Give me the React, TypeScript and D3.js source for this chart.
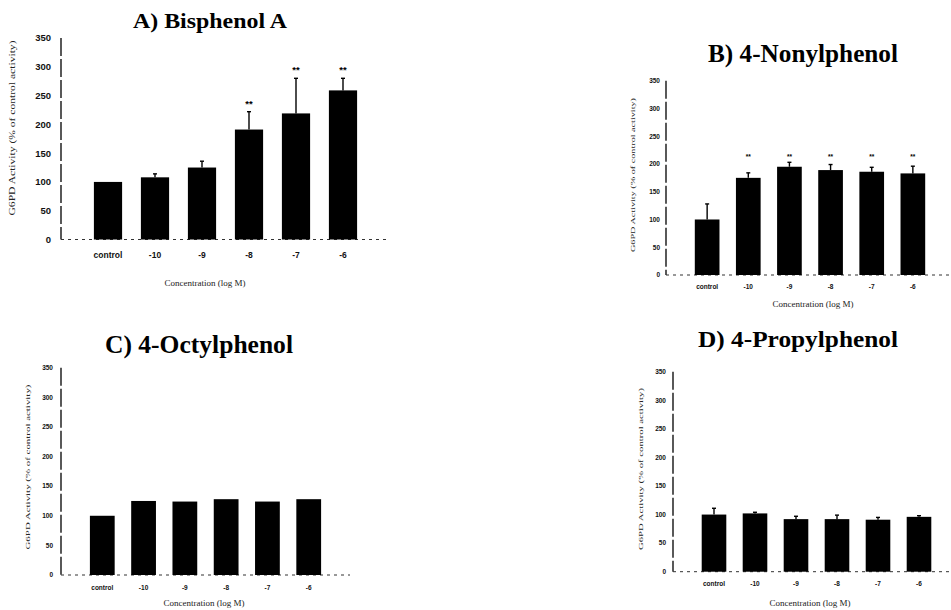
import React from "react";
import * as d3 from "d3";

const categories = ["control", "-10", "-9", "-8", "-7", "-6"];
const yTicks = [0, 50, 100, 150, 200, 250, 300, 350];

const bpaMean = [100, 108, 125, 191, 219, 259];
const bpaErr = [0, 6, 11, 31, 61, 21];
const bpaSig = ["", "", "", "**", "**", "**"];

const nonylMean = [100, 175, 195, 189, 186, 183];
const nonylErr = [28, 9, 8, 10, 8, 13];
const nonylSig = ["", "**", "**", "**", "**", "**"];

const octylMean = [100, 125, 124, 128, 124, 128];
const octylErr = [0, 0, 0, 0, 0, 0];
const octylSig = ["", "", "", "", "", ""];

const propylMean = [100, 102, 92, 92, 91, 96];
const propylErr = [11, 2, 5, 7, 4, 2];
const propylSig = ["", "", "", "", "", ""];

const titles = ["A) Bisphenol A", "B) 4-Nonylphenol", "C) 4-Octylphenol", "D) 4-Propylphenol"];
const yTitle = "G6PD Activity (% of control activity)";
const xTitle = "Concentration (log M)";

type PanelProps = {
  title: string;
  mean: number[];
  err: number[];
  sig: string[];
  axisX: number;
  yTop: number;
  yBottom: number;
  xEnd: number;
  tickRight: number;
  tickSize: number;
  titleX: number;
  titleY: number;
  titleSize: number;
  titleLen: number;
  yTitleX: number;
  yTitleCY: number;
  yTitleLen: number;
  yTitleSize: number;
  xLabelY: number;
  xLabelSize: number;
  xTitleX: number;
  xTitleY: number;
  xTitleSize: number;
  starFixed?: number;
};

function Panel(p: PanelProps) {
  const x = d3
    .scaleBand<string>()
    .domain(categories)
    .range([p.axisX, p.xEnd])
    .paddingInner(0.4)
    .paddingOuter(0.7);
  const y = d3.scaleLinear().domain([0, 350]).range([p.yBottom, p.yTop]);
  const bw = x.bandwidth();
  return (
    <g>
      <text
        x={p.titleX}
        y={p.titleY}
        textAnchor="middle"
        fontFamily="'Liberation Serif', serif"
        fontWeight="bold"
        fontSize={p.titleSize}
        textLength={p.titleLen}
        lengthAdjust="spacingAndGlyphs"
      >
        {p.title}
      </text>
      {/* y axis */}
      <line
        x1={p.axisX}
        x2={p.axisX}
        y1={y(350)}
        y2={y(0)}
        stroke="#000"
        strokeWidth={1.3}
        strokeDasharray="18,3"
      />
      {yTicks.map((t) => (
        <text
          key={t}
          x={p.tickRight}
          y={y(t) + p.tickSize * 0.36}
          textAnchor="end"
          fontFamily="'Liberation Sans', sans-serif"
          fontWeight="bold"
          fontSize={p.tickSize}
          fill="#111"
        >
          {t}
        </text>
      ))}
      {/* x axis (faint, dotted) */}
      <line
        x1={p.axisX}
        x2={Math.min(p.xEnd, 950)}
        y1={y(0)}
        y2={y(0)}
        stroke="#333"
        strokeWidth={1}
        strokeDasharray="3,4"
      />
      {categories.map((c, i) => {
        const bx = x(c)!;
        const top = y(p.mean[i]);
        const errTop = y(p.mean[i] + p.err[i]);
        const cx = bx + bw / 2;
        const starY =
          p.starFixed !== undefined ? y(p.starFixed) : errTop - 8;
        return (
          <g key={c}>
            <rect x={bx} y={top} width={bw} height={y(0) - top} fill="#000" />
            {p.err[i] > 0 && (
              <g stroke="#000" strokeWidth={1.4}>
                <line x1={cx} x2={cx} y1={top} y2={errTop} />
                <line x1={cx - 2} x2={cx + 2} y1={errTop} y2={errTop} />
              </g>
            )}
            {p.sig[i] && (
              <text
                x={cx}
                y={starY + 3}
                textAnchor="middle"
                fontFamily="'Liberation Sans', sans-serif"
                fontWeight="bold"
                fontSize={p.tickSize}
              >
                {p.sig[i]}
              </text>
            )}
            <text
              x={cx}
              y={p.xLabelY}
              textAnchor="middle"
              fontFamily="'Liberation Sans', sans-serif"
              fontWeight="bold"
              fontSize={p.xLabelSize}
              fill="#111"
            >
              {c}
            </text>
          </g>
        );
      })}
      <text
        transform={`translate(${p.yTitleX},${p.yTitleCY}) rotate(-90)`}
        textAnchor="middle"
        fontFamily="'Liberation Serif', serif"
        fontSize={p.yTitleSize}
        textLength={p.yTitleLen}
        lengthAdjust="spacingAndGlyphs"
        fill="#222"
      >
        {yTitle}
      </text>
      <text
        x={p.xTitleX}
        y={p.xTitleY}
        textAnchor="middle"
        fontFamily="'Liberation Serif', serif"
        fontSize={p.xTitleSize}
        fill="#222"
      >
        {xTitle}
      </text>
    </g>
  );
}

export default function App() {
  return (
    <svg
      width={951}
      height={610}
      style={{ position: "absolute", left: 0, top: 0, background: "#fff" }}
    >
      <rect width={951} height={610} fill="#fff" />
      <Panel
        title={titles[0]}
        mean={bpaMean}
        err={bpaErr}
        sig={bpaSig}
        axisX={61}
        yTop={38}
        yBottom={239.5}
        xEnd={390}
        tickRight={51}
        tickSize={9.5}
        titleX={210}
        titleY={28}
        titleSize={21}
        titleLen={154}
        yTitleX={15}
        yTitleCY={128}
        yTitleLen={175}
        yTitleSize={8}
        xLabelY={258}
        xLabelSize={8.5}
        xTitleX={205}
        xTitleY={286}
        xTitleSize={9}
      />
      <Panel
        title={titles[1]}
        mean={nonylMean}
        err={nonylErr}
        sig={nonylSig}
        axisX={666}
        yTop={80.7}
        yBottom={275}
        xEnd={954}
        tickRight={660}
        tickSize={6.5}
        titleX={803}
        titleY={62}
        titleSize={25}
        titleLen={190}
        yTitleX={635}
        yTitleCY={175}
        yTitleLen={154}
        yTitleSize={7}
        xLabelY={289}
        xLabelSize={6.5}
        xTitleX={813}
        xTitleY={307}
        xTitleSize={9}
        starFixed={214}
      />
      <Panel
        title={titles[2]}
        mean={octylMean}
        err={octylErr}
        sig={octylSig}
        axisX={61}
        yTop={367.7}
        yBottom={575}
        xEnd={350}
        tickRight={53}
        tickSize={6.5}
        titleX={199}
        titleY={353}
        titleSize={25}
        titleLen={188}
        yTitleX={30}
        yTitleCY={467}
        yTitleLen={165}
        yTitleSize={7}
        xLabelY={590}
        xLabelSize={6.5}
        xTitleX={204}
        xTitleY={606}
        xTitleSize={9}
      />
      <Panel
        title={titles[3]}
        mean={propylMean}
        err={propylErr}
        sig={propylSig}
        axisX={673}
        yTop={371.7}
        yBottom={571.7}
        xEnd={960}
        tickRight={666}
        tickSize={6.5}
        titleX={798}
        titleY={347}
        titleSize={23}
        titleLen={200}
        yTitleX={643}
        yTitleCY={469}
        yTitleLen={162}
        yTitleSize={7}
        xLabelY={586}
        xLabelSize={6.5}
        xTitleX={810}
        xTitleY={606}
        xTitleSize={9}
      />
    </svg>
  );
}
